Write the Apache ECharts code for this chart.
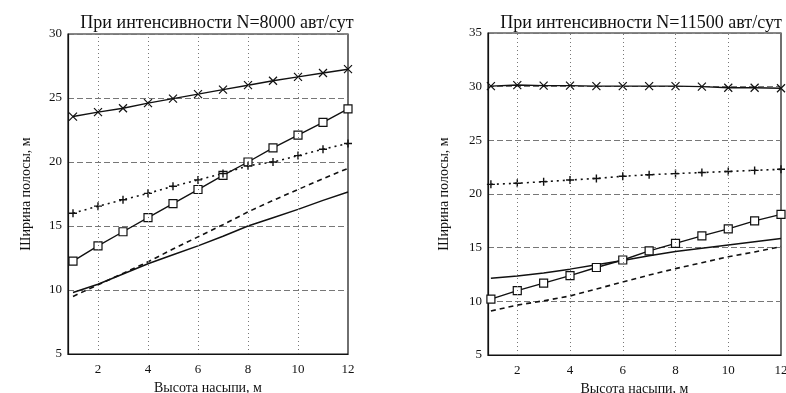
<!DOCTYPE html>
<html><head><meta charset="utf-8">
<script src="https://cdn.jsdelivr.net/npm/echarts@6/dist/echarts.min.js"></script>
<style>html,body{margin:0;padding:0;background:#fff}#c{width:786px;height:393px}</style>
</head><body><div id="c"></div>
<script>
const xValues = [1,2,3,4,5,6,7,8,9,10,11,12];
const xTickLabels = [2,4,6,8,10,12];
const titles = ['При интенсивности N=8000 авт/сут', 'При интенсивности N=11500 авт/сут'];
const xName = 'Высота насыпи, м';
const yName = 'Ширина полосы, м';

const leftCross  = [23.55, 23.9, 24.2, 24.6, 24.95, 25.3, 25.65, 26.0, 26.35, 26.65, 26.95, 27.25];
const leftSquare = [12.25, 13.45, 14.55, 15.65, 16.75, 17.85, 18.95, 20.0, 21.1, 22.1, 23.1, 24.15];
const leftPlus   = [16.0, 16.55, 17.05, 17.55, 18.1, 18.6, 19.1, 19.7, 20.0, 20.5, 21.0, 21.45];
const leftDashed = [9.5, 10.4, 11.3, 12.2, 13.2, 14.15, 15.1, 16.1, 17.0, 17.85, 18.7, 19.5];
const leftSolid  = [9.8, 10.45, 11.25, 12.05, 12.75, 13.45, 14.2, 15.0, 15.65, 16.3, 17.0, 17.65];

const rightCross  = [30.05, 30.15, 30.1, 30.1, 30.05, 30.05, 30.05, 30.05, 30.0, 29.9, 29.9, 29.85];
const rightPlus   = [20.9, 21.0, 21.15, 21.3, 21.45, 21.65, 21.8, 21.9, 22.0, 22.1, 22.2, 22.3];
const rightSquare = [10.2, 11.0, 11.7, 12.4, 13.15, 13.85, 14.7, 15.4, 16.1, 16.75, 17.5, 18.1];
const rightSolid  = [12.15, 12.35, 12.65, 13.0, 13.4, 13.8, 14.25, 14.65, 14.95, 15.25, 15.55, 15.85];
const rightDashed = [9.1, 9.65, 10.05, 10.5, 11.15, 11.8, 12.45, 13.05, 13.6, 14.15, 14.6, 15.1];

const FONT = '"Liberation Serif", "DejaVu Serif", serif';
const CROSS = 'path://M0,0L10,10M10,0L0,10';
const PLUS = 'path://M5,0L5,10M0,5L10,5';
const pairs = arr => arr.map((v, i) => [xValues[i], v]);

function mkSeries(data, idx, kind) {
  const base = {type: 'line', xAxisIndex: idx, yAxisIndex: idx, data: pairs(data), silent: true,
    lineStyle: {color: '#111', width: 1.4}, z: 3};
  if (kind === 'cross') return Object.assign(base, {symbol: CROSS, symbolSize: 8,
    itemStyle: {color: 'none', borderColor: '#111', borderWidth: 1.2}});
  if (kind === 'square') return Object.assign(base, {symbol: 'rect', symbolSize: 8,
    itemStyle: {color: '#fff', borderColor: '#111', borderWidth: 1.2}});
  if (kind === 'plus') return Object.assign(base, {symbol: PLUS, symbolSize: 8,
    lineStyle: {color: '#111', width: 1.6, type: [2, 4]},
    itemStyle: {color: 'none', borderColor: '#111', borderWidth: 1.4}});
  if (kind === 'dashed') return Object.assign(base, {symbol: 'none',
    lineStyle: {color: '#111', width: 1.6, type: [5, 4]}});
  return Object.assign(base, {symbol: 'none', lineStyle: {color: '#111', width: 1.5}});
}

function vGrid(idx) {
  return {type: 'line', xAxisIndex: idx, yAxisIndex: idx, data: [], silent: true,
    markLine: {symbol: 'none', silent: true, label: {show: false},
      lineStyle: {color: '#777', width: 1, type: [1, 3]},
      data: [2,4,6,8,10].map(v => ({xAxis: v}))}};
}

function xAxis(idx, min, gap) {
  return {type: 'value', gridIndex: idx, min: min, max: 12,
    name: xName, nameLocation: 'middle', nameGap: gap,
    nameTextStyle: {fontFamily: FONT, fontSize: 14, color: '#111'},
    axisLine: {show: true, onZero: false, lineStyle: {color: '#111', width: 1.2}},
    axisTick: {show: false},
    axisLabel: {customValues: xTickLabels, fontFamily: FONT, fontSize: 13, color: '#111', margin: 9},
    splitLine: {show: false}};
}
function yAxis(idx, max, gap) {
  return {type: 'value', gridIndex: idx, min: 5, max: max, interval: 5,
    name: yName, nameLocation: 'middle', nameGap: gap,
    nameTextStyle: {fontFamily: FONT, fontSize: 14, color: '#111'},
    axisLine: {show: true, lineStyle: {color: '#111', width: 1.2}},
    axisTick: {show: false},
    axisLabel: {fontFamily: FONT, fontSize: 13, color: '#111', margin: 6},
    splitLine: {show: true, lineStyle: {color: '#777', width: 1, type: [6, 3]}}};
}

const option = {
  backgroundColor: '#fff',
  animation: false,
  title: [
    {text: titles[0], left: 212, top: 9, textAlign: 'center',
      textStyle: {fontFamily: FONT, fontSize: 18, fontWeight: 'normal', color: '#111'}},
    {text: titles[1], left: 636, top: 9, textAlign: 'center',
      textStyle: {fontFamily: FONT, fontSize: 18, fontWeight: 'normal', color: '#111'}}
  ],
  grid: [
    {left: 68, top: 34, width: 280, height: 320, show: true, borderColor: '#111', borderWidth: 1.2,
      backgroundColor: 'transparent', outerBoundsMode: 'none', containLabel: false},
    {left: 488, top: 33, width: 293, height: 322, show: true, borderColor: '#111', borderWidth: 1.2,
      backgroundColor: 'transparent', outerBoundsMode: 'none', containLabel: false}
  ],
  xAxis: [xAxis(0, 0.8, 24), xAxis(1, 0.89, 27)],
  yAxis: [yAxis(0, 30, 35), yAxis(1, 35, 37)],
  series: [
    vGrid(0), vGrid(1),
    mkSeries(leftCross, 0, 'cross'),
    mkSeries(leftSquare, 0, 'square'),
    mkSeries(leftPlus, 0, 'plus'),
    mkSeries(leftDashed, 0, 'dashed'),
    mkSeries(leftSolid, 0, 'solid'),
    mkSeries(rightCross, 1, 'cross'),
    mkSeries(rightPlus, 1, 'plus'),
    mkSeries(rightSquare, 1, 'square'),
    mkSeries(rightSolid, 1, 'solid'),
    mkSeries(rightDashed, 1, 'dashed')
  ]
};
const chart = echarts.init(document.getElementById('c'), null, {renderer: 'canvas'});
chart.setOption(option);
</script>
</body></html>
